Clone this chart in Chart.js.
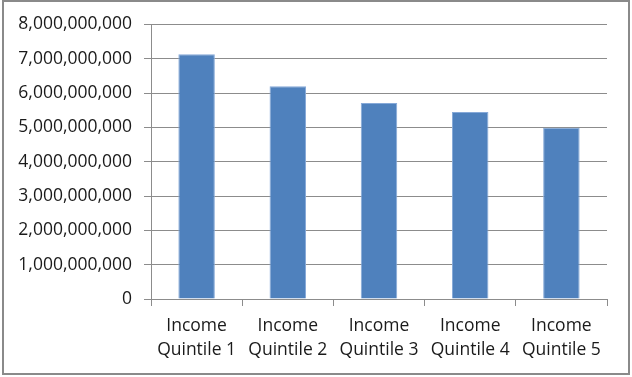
<!DOCTYPE html>
<html>
<head>
<meta charset="utf-8">
<script src="https://cdn.jsdelivr.net/npm/chart.js@4"></script>
<style>
    body { margin: 0; background: #fff; }
    .frame {
        position: absolute;
        left: 2px;
        top: 0px;
        width: 628px;
        height: 375px;
        box-sizing: border-box;
        border: 2px solid #8a8a8a;
        background: #fff;
    }
    canvas { display: block; }
</style>
</head>
<body>
<div class="frame">
    <canvas id="chart" width="624" height="371"></canvas>
</div>
<script>
const categories = [
    ["Income", "Quintile 1"],
    ["Income", "Quintile 2"],
    ["Income", "Quintile 3"],
    ["Income", "Quintile 4"],
    ["Income", "Quintile 5"],
];
const values = [7130000000, 6200000000, 5710000000, 5450000000, 4990000000];
const yMax = 8000000000;
const yStep = 1000000000;

const gridColor = "#8c8c8c";
const textColor = "#1a1a1a";
const font = { family: "'Open Sans', sans-serif", size: 17.5 };

const ctx = document.getElementById("chart");

new Chart(ctx, {
    type: "bar",
    data: {
        labels: categories,
        datasets: [
            {
                data: values,
                backgroundColor: "#4f81bd",
                borderColor: "#86a9d8",
                borderWidth: 1,
                barPercentage: 0.4,
                categoryPercentage: 1,
            },
        ],
    },
    options: {
        responsive: false,
        animation: false,
        layout: {
            padding: { top: 22, right: 21, bottom: 0, left: 0 },
        },
        plugins: {
            legend: { display: false },
            tooltip: { enabled: false },
        },
        scales: {
            x: {
                grid: {
                    drawOnChartArea: false,
                    drawTicks: true,
                    tickLength: 7,
                    color: gridColor,
                },
                border: { color: gridColor },
                ticks: {
                    color: textColor,
                    font: { ...font, lineHeight: 1.37 },
                    padding: 8,
                    maxRotation: 0,
                    autoSkip: false,
                },
                afterFit: (scale) => {
                    scale.height = 74;
                },
            },
            y: {
                min: 0,
                max: yMax,
                grid: {
                    color: gridColor,
                    tickLength: 7,
                },
                border: { color: gridColor },
                ticks: {
                    stepSize: yStep,
                    color: textColor,
                    font: font,
                    padding: 12,
                    callback: (v) => v.toLocaleString("en-US"),
                },
                afterFit: (scale) => {
                    scale.width = 147;
                },
            },
        },
    },
});
</script>
</body>
</html>
